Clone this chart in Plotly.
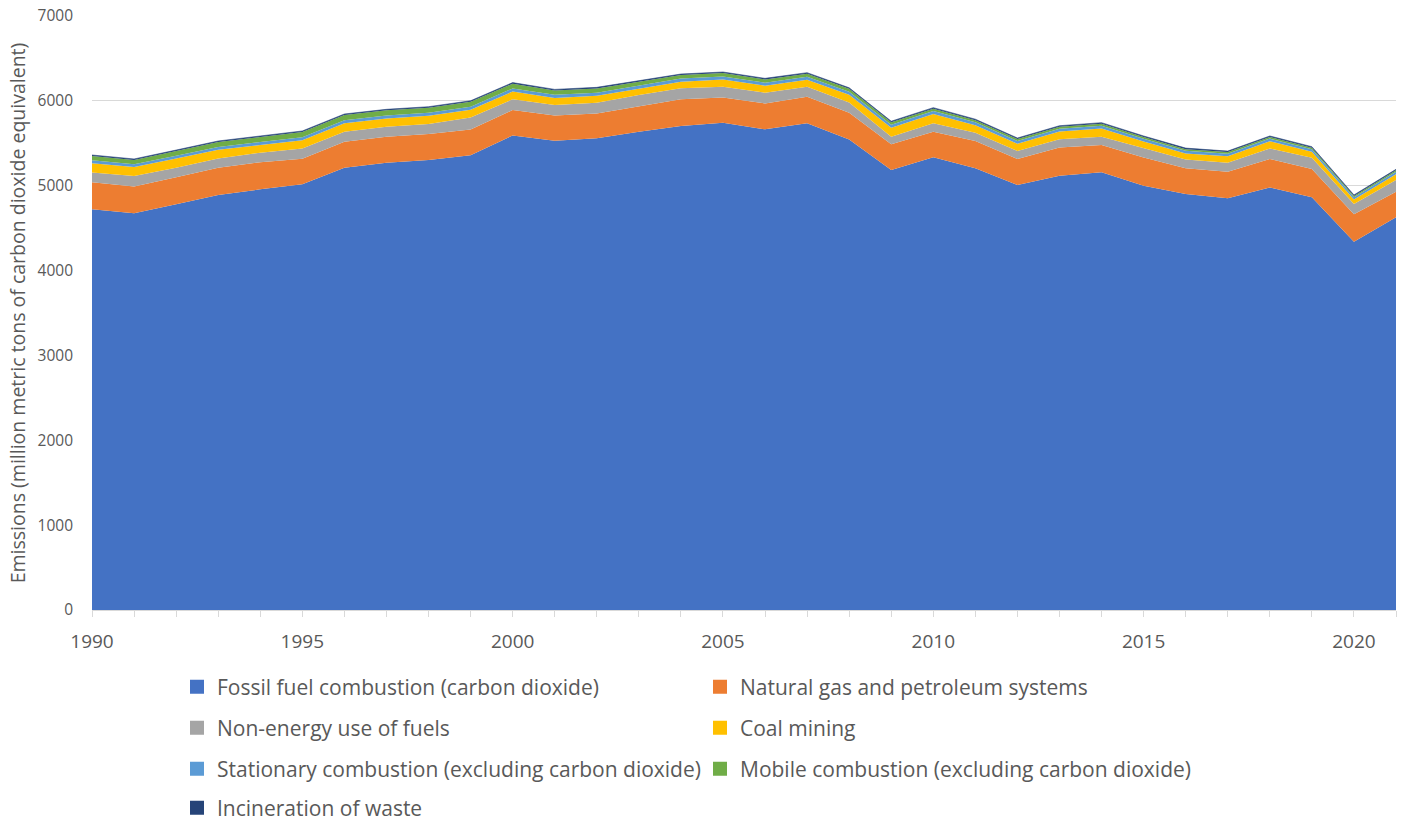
import plotly.graph_objects as go

years = list(range(1990, 2022))

fossil_fuel = [4722, 4676, 4781, 4891, 4957, 5016, 5213, 5271, 5303, 5358, 5593, 5531, 5558, 5637, 5704, 5742,
               5664, 5735, 5546, 5185, 5334, 5205, 5008, 5118, 5158, 5000, 4902, 4851, 4980, 4863, 4341, 4627]
natural_gas = [318, 314, 319, 322, 319, 303, 306, 307, 306, 305, 299, 297, 294, 302, 314, 299,
               306, 314, 314, 303, 303, 322, 307, 331, 322, 333, 303, 315, 335, 334, 322, 302]
non_energy = [117, 124, 112, 109, 113, 121, 117, 117, 117, 142, 126, 123, 126, 130, 130, 126,
              127, 118, 122, 89, 98, 98, 94, 98, 97, 107, 105, 105, 125, 132, 122, 138]
coal_mining = [108, 106, 108, 101, 92, 97, 99, 96, 98, 91, 92, 84, 83, 72, 78, 84,
               82, 82, 91, 107, 111, 89, 86, 92, 98, 81, 71, 75, 85, 72, 52, 69]
stationary = [34, 33, 34, 34, 34, 35, 36, 36, 35, 35, 37, 36, 36, 36, 36, 36,
              35, 35, 35, 33, 34, 33, 31, 32, 33, 31, 30, 30, 30, 30, 28, 29]
mobile = [51, 50, 54, 58, 59, 61, 62, 61, 60, 58, 56, 52, 50, 46, 42, 41,
          39, 36, 34, 31, 28, 25, 24, 24, 23, 22, 20, 20, 19, 17, 14, 16]
incineration = [12, 12, 12, 12, 12, 12, 12, 12, 12, 12, 12, 12, 12, 12, 12, 12,
                12, 12, 12, 12, 12, 12, 12, 12, 12, 12, 12, 12, 12, 12, 12, 12]

names = ["Fossil fuel combustion (carbon dioxide)", "Natural gas and petroleum systems",
         "Non-energy use of fuels", "Coal mining",
         "Stationary combustion (excluding carbon dioxide)", "Mobile combustion (excluding carbon dioxide)",
         "Incineration of waste"]
series = [fossil_fuel, natural_gas, non_energy, coal_mining, stationary, mobile, incineration]
colors = ["#4472C4", "#ED7D31", "#A5A5A5", "#FFC000", "#5B9BD5", "#70AD47", "#264478"]

y_ticks = list(range(0, 7001, 1000))
x_ticks = list(range(1990, 2021, 5))

FONT = "Open Sans"
TXT = "#595959"

fig = go.Figure()
for name, vals, col in zip(names, series, colors):
    fig.add_trace(go.Scatter(
        x=years, y=vals, name=name, stackgroup="one", mode="lines",
        line=dict(width=0.6 if col == "#264478" else 0, color=col),
        fillcolor=col, showlegend=False, hoverinfo="x+y+name"))

legend_ids = ["legend", "legend", "legend2", "legend2", "legend3", "legend3", "legend4"]
for name, col, lid in zip(names, colors, legend_ids):
    fig.add_trace(go.Scatter(
        x=[None], y=[None], mode="markers", name=name,
        marker=dict(symbol="square", size=14, color=col),
        legend=lid, showlegend=True))

row_y = [687, 728, 769, 808]
H_FIG = 824


def cy(pix):
    return (H_FIG - pix) / H_FIG


leg_common = dict(orientation="h", xanchor="left", yanchor="middle",
                  xref="container", yref="container",
                  x=177 / 1401, entrywidth=478, entrywidthmode="pixels",
                  traceorder="normal",
                  font=dict(family=FONT, size=21, color=TXT), bgcolor="rgba(0,0,0,0)",
                  itemclick=False, itemdoubleclick=False)

fig.update_layout(
    width=1401, height=824,
    margin=dict(l=92, r=5, t=16, b=214),
    plot_bgcolor="white", paper_bgcolor="white",
    font=dict(family=FONT, color=TXT),
    xaxis=dict(range=[1990, 2021], tickmode="array", tickvals=x_ticks,
               ticktext=[str(v) for v in x_ticks],
               showgrid=False, showline=True, linecolor="#D9D9D9", linewidth=1,
               ticks="outside", ticklen=6, tickcolor="#D9D9D9", ticklabelstandoff=8,
               minor=dict(ticks="outside", ticklen=6, tickcolor="#D9D9D9", dtick=1, tick0=1990),
               tickfont=dict(family=FONT, size=19, color=TXT), zeroline=False),
    yaxis=dict(range=[0, 7000], tickmode="array", tickvals=y_ticks,
               ticktext=[str(v) for v in y_ticks],
               showgrid=True, gridcolor="#D9D9D9", gridwidth=1, zeroline=False,
               tickfont=dict(family=FONT, size=15.5, color=TXT), ticks="", ticklabelstandoff=18,
               title=dict(text="Emissions (million metric tons of carbon dioxide equivalent)",
                          font=dict(family=FONT, size=19.5, color=TXT), standoff=6)),
    legend=dict(y=cy(row_y[0]), **leg_common),
    legend2=dict(y=cy(row_y[1]), **leg_common),
    legend3=dict(y=cy(row_y[2]), **leg_common),
    legend4=dict(y=cy(row_y[3]), **leg_common),
)

fig.write_html("out.html")
